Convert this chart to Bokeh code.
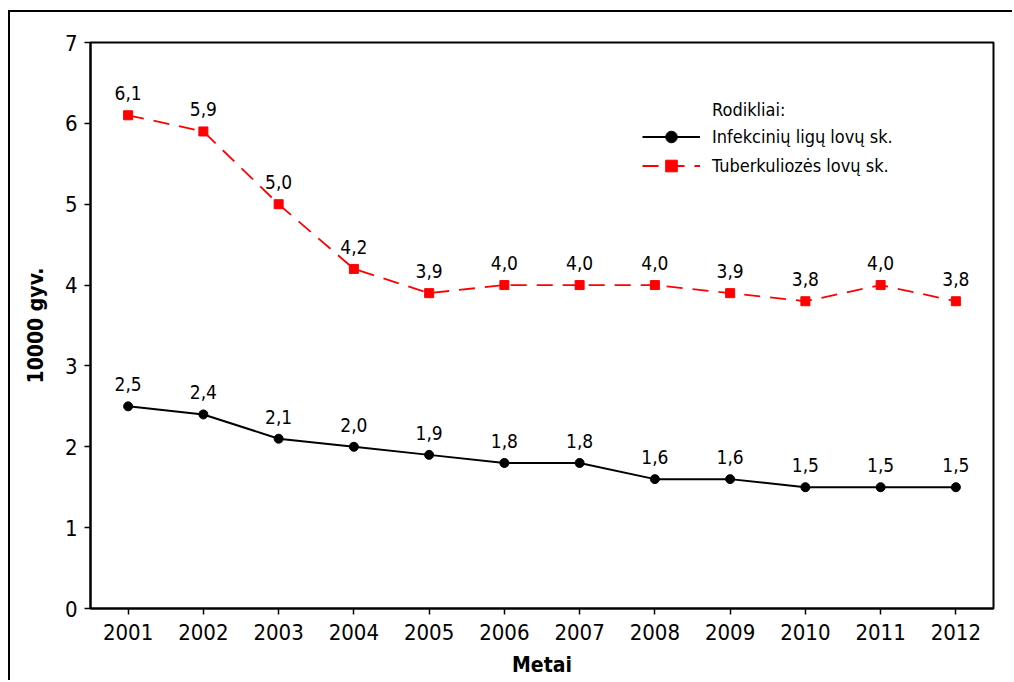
from bokeh.plotting import figure
from bokeh.models import (ColumnDataSource, FixedTicker, Range1d, Legend, LegendItem, Label)
from bokeh.core.properties import value
from bokeh.embed import file_html
from bokeh.resources import INLINE

years = [2001, 2002, 2003, 2004, 2005, 2006, 2007, 2008, 2009, 2010, 2011, 2012]
infekciniu = [2.5, 2.4, 2.1, 2.0, 1.9, 1.8, 1.8, 1.6, 1.6, 1.5, 1.5, 1.5]
tuberkuliozes = [6.1, 5.9, 5.0, 4.2, 3.9, 4.0, 4.0, 4.0, 3.9, 3.8, 4.0, 3.8]
y_ticks = [0, 1, 2, 3, 4, 5, 6, 7]
series_names = ["Infekcinių ligų lovų sk.", "Tuberkuliozės lovų sk."]
legend_title = "Rodikliai:"
x_title = "Metai"
y_title = "10000 gyv."

FONT = "DejaVu Sans Condensed"

def lt(v):
    return f"{v:.1f}".replace(".", ",")

src_a = ColumnDataSource(dict(x=years, y=infekciniu, t=[lt(v) for v in infekciniu]))
src_b = ColumnDataSource(dict(x=years, y=tuberkuliozes, t=[lt(v) for v in tuberkuliozes]))

p = figure(width=1004, height=670, output_backend="svg", toolbar_location=None,
           x_range=Range1d(years[0] - 0.5, years[-1] + 0.5),
           y_range=Range1d(y_ticks[0], y_ticks[-1]),
           min_border_left=80, min_border_right=21, min_border_top=30, min_border_bottom=74,
           styles={"border-left": "2px solid black", "border-top": "2px solid black",
                   "margin-top": "10px", "margin-left": "8px"})

p.grid.visible = False
p.outline_line_color = "black"
p.outline_line_width = 2
p.background_fill_color = "white"
p.border_fill_color = "white"

for ax in (p.xaxis[0], p.yaxis[0]):
    ax.axis_line_width = 2
    ax.axis_line_color = "black"
    ax.major_tick_line_color = "black"
    ax.major_tick_line_width = 1.5
    ax.major_tick_out = 6
    ax.major_tick_in = 0
    ax.minor_tick_line_color = None
    ax.major_label_text_font = FONT
    ax.major_label_text_font_size = "22px"
    ax.major_label_text_color = "black"
    ax.axis_label_text_font = FONT
    ax.axis_label_text_font_style = "bold"
    ax.axis_label_text_font_size = "21px"
    ax.axis_label_text_color = "black"

p.xaxis.ticker = FixedTicker(ticks=years)
p.yaxis.ticker = FixedTicker(ticks=y_ticks)
p.xaxis.major_label_standoff = 9
p.yaxis.major_label_standoff = 7
p.xaxis.axis_label = x_title
p.yaxis.axis_label = y_title
p.xaxis.axis_label_standoff = 10
p.yaxis.axis_label_standoff = 14

la = p.line("x", "y", source=src_a, line_color="black", line_width=2)
ma = p.scatter("x", "y", source=src_a, marker="circle", size=9, fill_color="black", line_color="black")
lb = p.line("x", "y", source=src_b, line_color="red", line_width=1.8, line_dash="16 10")
mb = p.scatter("x", "y", source=src_b, marker="square", size=9, fill_color="red", line_color="red")

for s in (src_a, src_b):
    p.text("x", "y", text="t", source=s, text_font=value(FONT), text_font_size="19px",
           text_align="center", text_baseline="alphabetic", y_offset=-22, text_color="black")

legend = Legend(items=[LegendItem(label=series_names[0], renderers=[la, ma]),
                       LegendItem(label=series_names[1], renderers=[lb, mb])],
                location=(552, 428), padding=0, margin=0, spacing=0,
                glyph_width=58, glyph_height=29, label_height=20, label_standoff=12,
                label_text_font=FONT, label_text_font_size="18px", label_text_color="black",
                border_line_alpha=0, background_fill_alpha=0)
p.add_layout(legend)

title = Label(x=years[0] - 0.5 + 8.26, y=6.17, text=legend_title, text_font=FONT,
              text_font_size="18px", text_baseline="middle", text_align="left",
              text_color="black")
p.add_layout(title)

open("out.html", "w").write(file_html(p, INLINE))
